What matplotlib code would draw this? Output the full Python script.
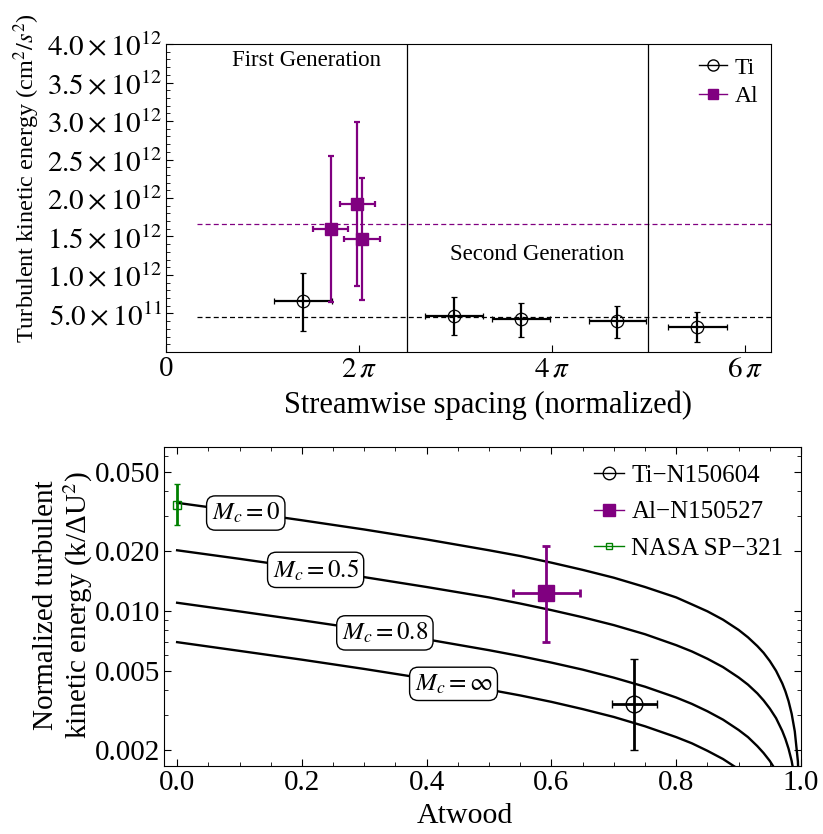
import numpy as np
import matplotlib
matplotlib.use("Agg")
import matplotlib.pyplot as plt
from matplotlib.lines import Line2D
from matplotlib.ticker import FixedLocator, MultipleLocator, LogLocator, NullFormatter

plt.rcParams['font.family'] = ['Liberation Serif', 'DejaVu Serif']
plt.rcParams['mathtext.fontset'] = 'stix'

PURPLE = '#800080'
GREEN = '#008000'

# ---- top panel: TKE vs streamwise spacing ----
ti_x = [4.46, 9.37, 11.56, 14.70, 17.30]
ti_y = [0.66e12, 0.47e12, 0.43e12, 0.40e12, 0.32e12]
ti_xerr = [0.94, 0.94, 0.94, 0.94, 0.96]
ti_yerr_lo = [0.39e12, 0.25e12, 0.23e12, 0.22e12, 0.19e12]
ti_yerr_hi = [0.36e12, 0.24e12, 0.21e12, 0.20e12, 0.20e12]

al_x = [5.37, 6.22, 6.38]
al_y = [1.60e12, 1.92e12, 1.47e12]
al_xerr = [0.57, 0.57, 0.60]
al_yerr_lo = [0.95e12, 1.06e12, 0.79e12]
al_yerr_hi = [0.95e12, 1.07e12, 0.79e12]

ti_mean = 0.455e12
al_mean = 1.66e12
gen_bounds = [2.5 * np.pi, 5 * np.pi]

# ---- bottom panel: normalized TKE vs Atwood ----
atwood = [0, 0.1, 0.2, 0.3, 0.4, 0.5, 0.55, 0.6, 0.65, 0.7, 0.75, 0.8, 0.825, 0.85,
          0.875, 0.9, 0.915, 0.93, 0.94, 0.95, 0.96, 0.97, 0.975, 0.98, 0.985, 0.99,
          0.995, 0.999]
mc_0 = [0.0350, 0.0317, 0.0286, 0.0257, 0.0229, 0.0202, 0.0189, 0.0175, 0.0161, 0.0147,
        0.0132, 0.0117, 0.0108, 0.00996, 0.00904, 0.00803, 0.00737, 0.00666, 0.00616,
        0.00560, 0.00500, 0.00432, 0.00394, 0.00352, 0.00304, 0.00248, 0.00175, 0.00078]
mc_05 = [0.0202, 0.0183, 0.0165, 0.0148, 0.0132, 0.0117, 0.0109, 0.0101, 0.00930, 0.00849,
         0.00764, 0.00673, 0.00626, 0.00575, 0.00522, 0.00463, 0.00426, 0.00385, 0.00355,
         0.00323, 0.00289, 0.00249, 0.00227, 0.00203, 0.00176, 0.00143, 0.00101, 0.00045]
mc_08 = [0.0110, 0.00995, 0.00898, 0.00807, 0.00720, 0.00635, 0.00593, 0.00550, 0.00507,
         0.00462, 0.00416, 0.00367, 0.00341, 0.00313, 0.00284, 0.00252, 0.00232, 0.00209,
         0.00193, 0.00176, 0.00157, 0.00136, 0.00124, 0.00111, 0.00096, 0.00078, 0.00055, 0.00025]
mc_inf = [0.00697, 0.00630, 0.00569, 0.00511, 0.00456, 0.00402, 0.00376, 0.00349, 0.00321,
          0.00293, 0.00263, 0.00232, 0.00216, 0.00198, 0.00180, 0.00160, 0.00147, 0.00133,
          0.00123, 0.00112, 0.00100, 0.00086, 0.00078, 0.00070, 0.00061, 0.00049, 0.00035, 0.00016]
curve_labels = [r'$M_c = 0$', r'$M_c = 0.5$', r'$M_c = 0.8$', r'$M_c = \infty$']
label_pos = [(0.11, 0.0311), (0.222, 0.0161), (0.333, 0.00776), (0.443, 0.00430)]

pts_name = ['Ti\u2212N150604', 'Al\u2212N150527', 'NASA SP\u2212321']
pts_a = [0.733, 0.592, 0.0]
pts_k = [0.00339, 0.0123, 0.0343]
pts_aerr = [0.036, 0.054, 0.0]
pts_kerr_lo = [0.00139, 0.0053, 0.0071]
pts_kerr_hi = [0.00233, 0.0090, 0.0094]

fig = plt.figure(figsize=(8.23, 8.34), dpi=100)
ax1 = fig.add_axes([0.2017, 0.578, 0.7351, 0.3692])
ax2 = fig.add_axes([0.1993, 0.0815, 0.774, 0.3825])

# top
ax1.errorbar(ti_x, ti_y, xerr=ti_xerr, yerr=[ti_yerr_lo, ti_yerr_hi], fmt='o', mfc='none',
             mec='black', ms=9, mew=0.9, ecolor='black', elinewidth=1.6, capsize=2.5,
             capthick=1.6, zorder=3)
ax1.errorbar(al_x, al_y, xerr=al_xerr, yerr=[al_yerr_lo, al_yerr_hi], fmt='s', color=PURPLE,
             ms=8, elinewidth=1.6, capsize=2.5, capthick=1.6, zorder=3)
ax1.hlines(al_mean, 1.0, 19.7, colors=PURPLE, linestyles=(0, (4, 2.5)), lw=0.9)
ax1.hlines(ti_mean, 1.0, 19.7, colors='black', linestyles=(0, (4, 2.5)), lw=0.9)
for b in gen_bounds:
    ax1.axvline(b, color='black', lw=0.9)
ax1.text(4.59, 3.78e12, 'First Generation', fontsize=16.5, ha='center', va='center')
ax1.text(12.08, 1.26e12, 'Second Generation', fontsize=16.5, ha='center', va='center')

ax1.set_xlim(0, 19.7)
ax1.set_ylim(0, 4.0e12)
ax1.set_xticks([0, 2 * np.pi, 4 * np.pi, 6 * np.pi])
ax1.set_xticklabels(['0', r'$2\,\pi$', r'$4\,\pi$', r'$6\,\pi$'])
yt = [0.5e12, 1.0e12, 1.5e12, 2.0e12, 2.5e12, 3.0e12, 3.5e12, 4.0e12]
ax1.set_yticks(yt)
ax1.set_yticklabels([r'$5.0\times10^{11}$'] +
                    [r'$%.1f\times10^{12}$' % (v / 1e12) for v in yt[1:]])
ax1.yaxis.set_minor_locator(MultipleLocator(0.1e12))
ax1.tick_params(direction='in', labelsize=21, length=5, width=0.8, pad=3)
ax1.tick_params(which='minor', direction='in', length=3, width=0.6)
ax1.set_xlabel('Streamwise spacing (normalized)', fontsize=22)
ax1.set_ylabel(r'Turbulent kinetic energy (cm$^2/s^2$)', fontsize=17.5)
ax1.xaxis.set_label_coords(0.532, -0.125)
ax1.yaxis.set_label_coords(-0.205, 0.565)
h_ti = Line2D([], [], color='black', marker='o', mfc='none', ms=8, lw=1.0)
h_al = Line2D([], [], color=PURPLE, marker='s', ms=7, lw=1.0)
ax1.legend([h_ti, h_al], ['Ti', 'Al'], loc='upper right', bbox_to_anchor=(1.0, 1.0),
           frameon=False, fontsize=17, handlelength=1.2, handletextpad=0.3,
           borderaxespad=0.15, labelspacing=0.3)

# bottom
for ys in [mc_0, mc_05, mc_08, mc_inf]:
    ax2.plot(atwood, ys, color='black', lw=1.7, zorder=2)
for txt, (xa, ya) in zip(curve_labels, label_pos):
    ax2.text(xa, ya, txt, fontsize=18, ha='center', va='center', zorder=4,
             bbox=dict(boxstyle='round,pad=0.2,rounding_size=0.35', fc='white', ec='black', lw=1.0))

ax2.errorbar(pts_a[0], pts_k[0], xerr=pts_aerr[0], yerr=[[pts_kerr_lo[0]], [pts_kerr_hi[0]]],
             fmt='o', mfc='none', mec='black', ms=12, mew=1.0, ecolor='black',
             elinewidth=2.0, capsize=3, capthick=2.0, zorder=5)
ax2.errorbar(pts_a[1], pts_k[1], xerr=pts_aerr[1], yerr=[[pts_kerr_lo[1]], [pts_kerr_hi[1]]],
             fmt='s', color=PURPLE, ms=12, elinewidth=2.0, capsize=3, capthick=2.0, zorder=5)
ax2.errorbar(pts_a[2], pts_k[2], yerr=[[pts_kerr_lo[2]], [pts_kerr_hi[2]]],
             fmt='s', mfc='none', mec=GREEN, ms=5.5, mew=1.0, ecolor=GREEN,
             elinewidth=2.0, capsize=2.5, capthick=2.0, zorder=5)

ax2.set_yscale('log')
ax2.set_xlim(-0.021, 1.0)
ax2.set_ylim(0.00166, 0.0668)
ax2.set_xticks([0.0, 0.2, 0.4, 0.6, 0.8, 1.0])
ax2.set_xticklabels(['0.0', '0.2', '0.4', '0.6', '0.8', '1.0'])
ax2.xaxis.set_minor_locator(MultipleLocator(0.05))
ax2.yaxis.set_major_locator(FixedLocator([0.002, 0.005, 0.01, 0.02, 0.05]))
ax2.set_yticklabels(['0.002', '0.005', '0.010', '0.020', '0.050'])
ax2.yaxis.set_minor_locator(LogLocator(base=10, subs=(1, 2, 3, 4, 5, 6, 7, 8, 9)))
ax2.yaxis.set_minor_formatter(NullFormatter())
ax2.tick_params(which='both', direction='in', top=True, right=True)
ax2.tick_params(labelsize=21, length=5, width=0.8, pad=3)
ax2.tick_params(which='minor', length=3, width=0.6)
ax2.set_xlabel('Atwood', fontsize=21.5)
ax2.set_ylabel('Normalized turbulent\nkinetic energy (k/\u0394U$^2$)', fontsize=21,
               linespacing=1.1)
ax2.xaxis.set_label_coords(0.4725, -0.115)
ax2.yaxis.set_label_coords(-0.108, 0.505)
h1 = Line2D([], [], color='black', marker='o', mfc='none', ms=9, lw=1.0)
h2 = Line2D([], [], color=PURPLE, marker='s', ms=8, lw=1.0)
h3 = Line2D([], [], color=GREEN, marker='s', mfc='none', ms=5, lw=1.0)
ax2.legend([h1, h2, h3], pts_name, loc='upper right', frameon=False, fontsize=18,
           handlelength=1.2, handletextpad=0.3, borderaxespad=0.3, labelspacing=0.55)

fig.savefig('out.png', dpi=100)
